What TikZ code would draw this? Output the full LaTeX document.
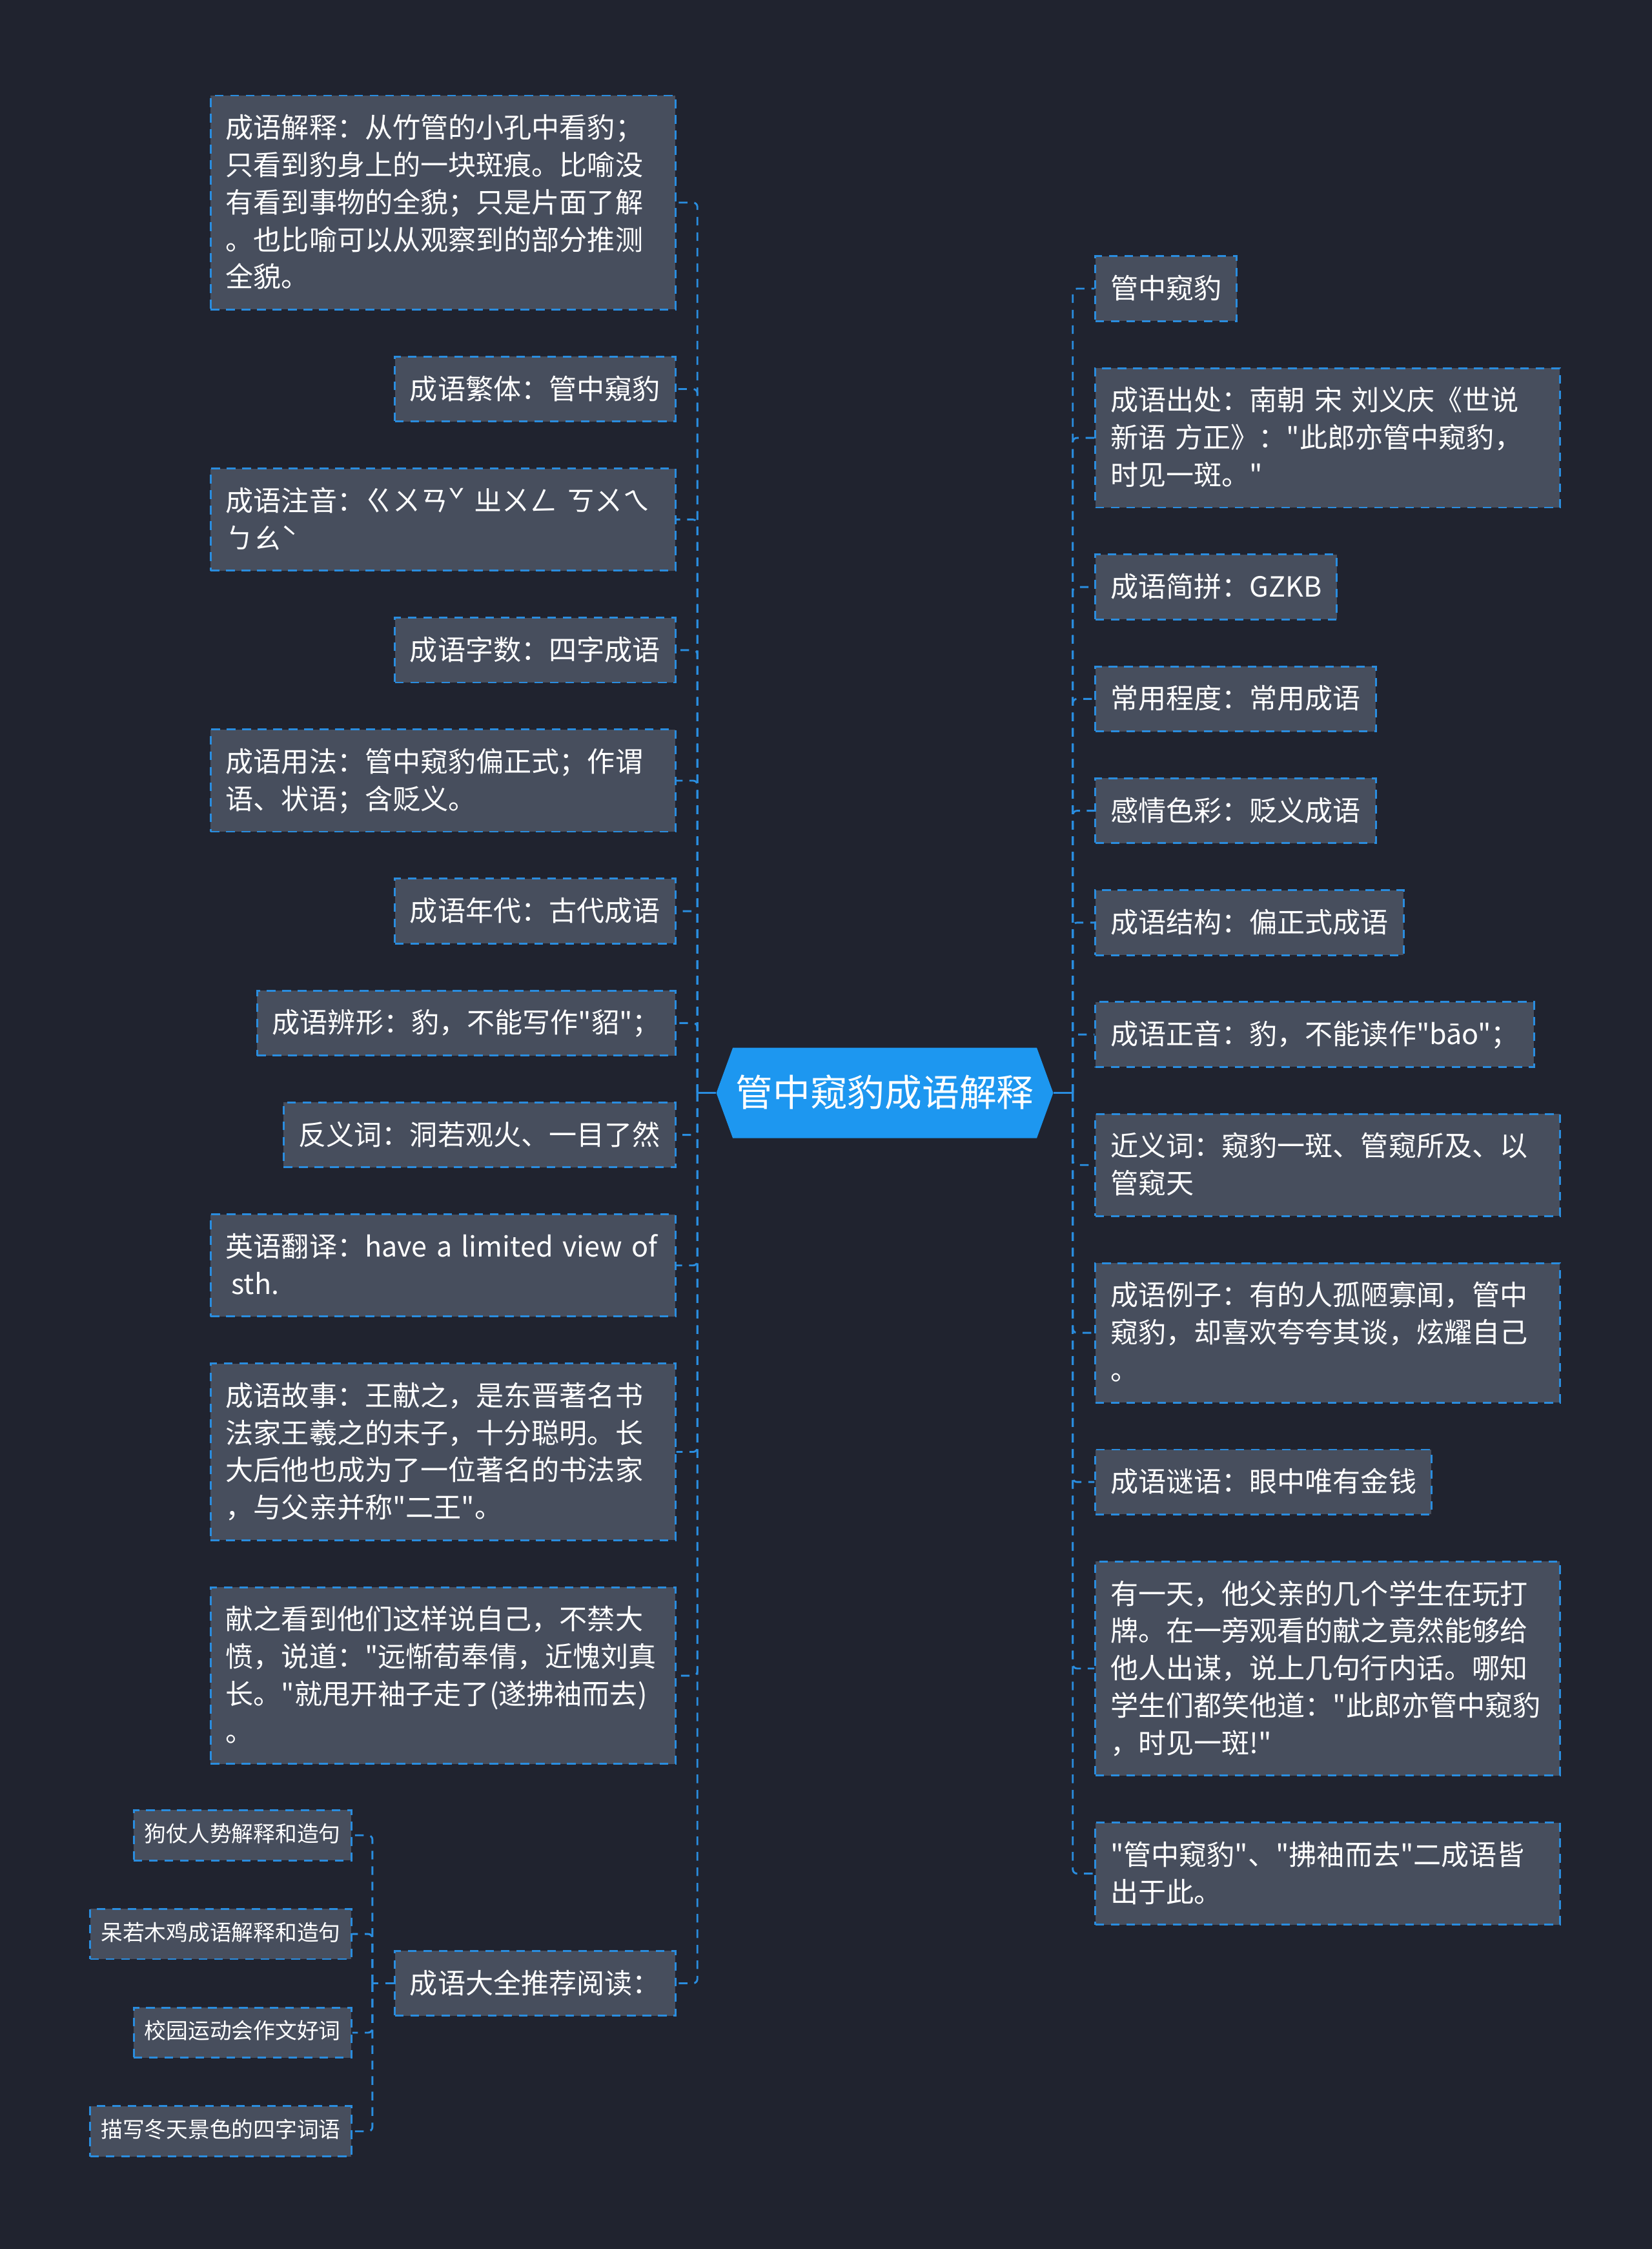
\documentclass[tikz,border=0pt]{standalone}
\usepackage{fontspec}
\setmainfont{Noto Sans CJK SC}[Ligatures=TeXOff]
\usetikzlibrary{positioning,shapes.symbols}

\definecolor{fond}{HTML}{20232F}
\definecolor{gris}{HTML}{474E5D}
\definecolor{bleu}{HTML}{2A8DDF}
\definecolor{bleu_centre}{HTML}{1D97F0}

\begin{document}
\begin{tikzpicture}[x=1pt,y=-1pt]
        \tikzstyle{leaf} = [rectangle, draw=bleu, line width=1.3pt, dash pattern=on 6pt off 4.8pt, fill=gris, text=white, align=left, inner xsep=10.5pt, inner ysep=9.6pt, font={\fontsize{19.4pt}{26pt}\selectfont}, execute at begin node={\rule{0pt}{20pt}}, execute at end node={\rule[-6pt]{0pt}{6pt}}]
        \tikzstyle{leaf_wide} = [leaf, text width=303pt]
        \tikzstyle{leaf_small} = [rectangle, draw=bleu, line width=1.3pt, dash pattern=on 6pt off 4.8pt, fill=gris, text=white, inner xsep=7.5pt, inner ysep=7.5pt, text height=14.5pt, text depth=5.5pt, font={\fontsize{15.2pt}{20pt}\selectfont}]
        \tikzstyle{root} = [signal, signal to=west and east, signal pointer angle=140, fill=bleu_centre, text=white, inner xsep=2pt, inner ysep=19pt, text height=22pt, text depth=3pt, font={\fontsize{26pt}{30pt}\selectfont}]
        \tikzstyle{branch} = [draw=bleu, line width=1.3pt, dash pattern=on 6pt off 4.8pt, rounded corners=3pt]
        \tikzstyle{link} = [draw=bleu, line width=1.3pt]
        \fill[fond] (0,0) rectangle (1152,1568);
        \useasboundingbox (0,0) rectangle (1152,1568);
        \node (hub) [root] at (617,762) {管中窥豹成语解释};
        % colonne gauche
        \node (jieshi) [leaf_wide, anchor=north east] at (471.6,66) {成语解释：从竹管的小孔中看豹；\\只看到豹身上的一块斑痕。比喻没\\有看到事物的全貌；只是片面了解\\。也比喻可以从观察到的部分推测\\全貌。};
        \node (fanti) [leaf, below=31.5pt of jieshi.south east, anchor=north east]{成语繁体：管中窺豹};
        \node (zhuyin) [leaf_wide, below=31.5pt of fanti.south east, anchor=north east]{成语注音：ㄍㄨㄢˇ ㄓㄨㄥ ㄎㄨㄟ\\ㄅㄠˋ};
        \node (zishu) [leaf, below=31.5pt of zhuyin.south east, anchor=north east]{成语字数：四字成语};
        \node (yongfa) [leaf_wide, below=31.5pt of zishu.south east, anchor=north east]{成语用法：管中窥豹偏正式；作谓\\语、状语；含贬义。};
        \node (niandai) [leaf, below=31.5pt of yongfa.south east, anchor=north east]{成语年代：古代成语};
        \node (bianxing) [leaf, below=31.5pt of niandai.south east, anchor=north east]{成语辨形：豹，不能写作"貂"；};
        \node (fanyi) [leaf, below=31.5pt of bianxing.south east, anchor=north east]{反义词：洞若观火、一目了然};
        \node (yingyu) [leaf_wide, below=31.5pt of fanyi.south east, anchor=north east]{\mbox{英语翻译：have a limited view of}\\\hspace{4pt}sth.};
        \node (gushi) [leaf_wide, below=31.5pt of yingyu.south east, anchor=north east]{成语故事：王献之，是东晋著名书\\法家王羲之的末子，十分聪明。长\\大后他也成为了一位著名的书法家\\，与父亲并称"二王"。};
        \node (xianzhi) [leaf_wide, below=31.5pt of gushi.south east, anchor=north east]{献之看到他们这样说自己，不禁大\\愤，说道："远惭荀奉倩，近愧刘真\\长。"就甩开袖子走了(遂拂袖而去)\\。};
        \node (tuijian) [leaf, below=129pt of xianzhi.south east, anchor=north east]{成语大全推荐阅读：};
        \node (daruo) [leaf_small, anchor=south east] at ([xshift=-29pt,yshift=16.25pt]tuijian.west) {呆若木鸡成语解释和造句};
        \node (gouzhang) [leaf_small, above=32.5pt of daruo.north east, anchor=south east]{狗仗人势解释和造句};
        \node (xiaoyuan) [leaf_small, anchor=north east] at ([xshift=-29pt,yshift=-16.25pt]tuijian.west) {校园运动会作文好词};
        \node (dongtian) [leaf_small, below=32.5pt of xiaoyuan.south east, anchor=north east]{描写冬天景色的四字词语};
        % colonne droite
        \node (title) [leaf, anchor=north west] at (763.2,178) {管中窥豹};
        \node (chuchu) [leaf_wide, below=31.5pt of title.south west, anchor=north west]{成语出处：南朝 宋 刘义庆《世说\\新语 方正》："此郎亦管中窥豹，\\时见一斑。"};
        \node (jianpin) [leaf, below=31.5pt of chuchu.south west, anchor=north west]{成语简拼：GZKB};
        \node (changyong) [leaf, below=31.5pt of jianpin.south west, anchor=north west]{常用程度：常用成语};
        \node (ganqing) [leaf, below=31.5pt of changyong.south west, anchor=north west]{感情色彩：贬义成语};
        \node (jiegou) [leaf, below=31.5pt of ganqing.south west, anchor=north west]{成语结构：偏正式成语};
        \node (zhengyin) [leaf, below=31.5pt of jiegou.south west, anchor=north west]{成语正音：豹，不能读作"bāo"；};
        \node (jinyi) [leaf_wide, below=31.5pt of zhengyin.south west, anchor=north west]{近义词：窥豹一斑、管窥所及、以\\管窥天};
        \node (lizi) [leaf_wide, below=31.5pt of jinyi.south west, anchor=north west]{成语例子：有的人孤陋寡闻，管中\\窥豹，却喜欢夸夸其谈，炫耀自己\\。};
        \node (miyu) [leaf, below=31.5pt of lizi.south west, anchor=north west]{成语谜语：眼中唯有金钱};
        \node (youyitian) [leaf_wide, below=31.5pt of miyu.south west, anchor=north west]{有一天，他父亲的几个学生在玩打\\牌。在一旁观看的献之竟然能够给\\他人出谋，说上几句行内话。哪知\\学生们都笑他道："此郎亦管中窥豹\\，时见一斑!"};
        \node (chuyu) [leaf_wide, below=31.5pt of youyitian.south west, anchor=north west]{"管中窥豹"、"拂袖而去"二成语皆\\出于此。};
        % liaisons
        \coordinate (tronc_gauche) at ([xshift=-13pt]hub.west);
        \coordinate (tronc_droit) at ([xshift=13.4pt]hub.east);
        \coordinate (tronc_tuijian) at ([xshift=-15pt]tuijian.west);
        \draw[link] (hub.west) -- (tronc_gauche);
        \draw[link] (hub.east) -- (tronc_droit);
        \draw[branch] (tronc_gauche) |- (jieshi.east);
        \draw[branch] (tronc_gauche) |- (fanti.east);
        \draw[branch] (tronc_gauche) |- (zhuyin.east);
        \draw[branch] (tronc_gauche) |- (zishu.east);
        \draw[branch] (tronc_gauche) |- (yongfa.east);
        \draw[branch] (tronc_gauche) |- (niandai.east);
        \draw[branch] (tronc_gauche) |- (bianxing.east);
        \draw[branch] (tronc_gauche) |- (fanyi.east);
        \draw[branch] (tronc_gauche) |- (yingyu.east);
        \draw[branch] (tronc_gauche) |- (gushi.east);
        \draw[branch] (tronc_gauche) |- (xianzhi.east);
        \draw[branch] (tronc_gauche) |- (tuijian.east);
        \draw[branch] (tuijian.west) -- (tronc_tuijian);
        \draw[branch] (tronc_tuijian) |- (gouzhang.east);
        \draw[branch] (tronc_tuijian) |- (daruo.east);
        \draw[branch] (tronc_tuijian) |- (xiaoyuan.east);
        \draw[branch] (tronc_tuijian) |- (dongtian.east);
        \draw[branch] (tronc_droit) |- (title.west);
        \draw[branch] (tronc_droit) |- (chuchu.west);
        \draw[branch] (tronc_droit) |- (jianpin.west);
        \draw[branch] (tronc_droit) |- (changyong.west);
        \draw[branch] (tronc_droit) |- (ganqing.west);
        \draw[branch] (tronc_droit) |- (jiegou.west);
        \draw[branch] (tronc_droit) |- (zhengyin.west);
        \draw[branch] (tronc_droit) |- (jinyi.west);
        \draw[branch] (tronc_droit) |- (lizi.west);
        \draw[branch] (tronc_droit) |- (miyu.west);
        \draw[branch] (tronc_droit) |- (youyitian.west);
        \draw[branch] (tronc_droit) |- (chuyu.west);
\end{tikzpicture}
\end{document}
